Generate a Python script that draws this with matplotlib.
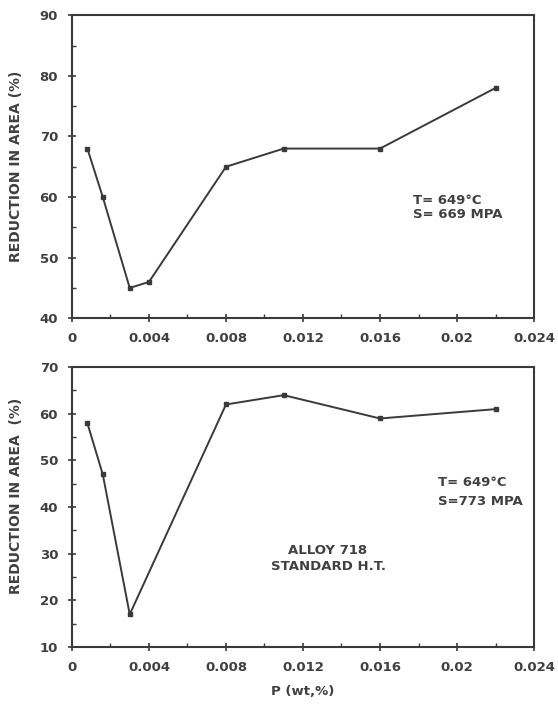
import numpy as np
import matplotlib.pyplot as plt
from matplotlib.ticker import MultipleLocator

plt.rcParams['font.family'] = ['DejaVu Sans']
plt.rcParams['font.weight'] = 'bold'

# Reduction in area vs phosphorus content, Alloy 718 at 649 C
p_top = [0.0008, 0.0016, 0.003, 0.004, 0.008, 0.011, 0.016, 0.022]
ra_top = [68, 60, 45, 46, 65, 68, 68, 78]
p_bot = [0.0008, 0.0016, 0.003, 0.008, 0.011, 0.016, 0.022]
ra_bot = [58, 47, 17, 62, 64, 59, 61]
xticks = [0, 0.004, 0.008, 0.012, 0.016, 0.02, 0.024]
xticklabels = ['0', '0.004', '0.008', '0.012', '0.016', '0.02', '0.024']

ink = '#3a3a3a'
txt = '#404040'
fs = 9.5
fig = plt.figure(figsize=(5.58, 7.12), dpi=100)
ax1 = fig.add_axes([0.129, 0.553, 0.828, 0.4256])
ax2 = fig.add_axes([0.129, 0.0913, 0.828, 0.393])

def style(ax, ylim, ystep, ylabel):
    ax.set_xlim(0, 0.024)
    ax.set_ylim(*ylim)
    ax.set_xticks(xticks)
    ax.set_xticklabels(xticklabels)
    ax.xaxis.set_minor_locator(MultipleLocator(0.002))
    ax.yaxis.set_major_locator(MultipleLocator(ystep))
    ax.yaxis.set_minor_locator(MultipleLocator(ystep / 2))
    ax.tick_params(which='major', direction='inout', length=6, width=1.2, colors=ink,
                   labelsize=fs, pad=7)
    ax.tick_params(which='minor', direction='in', length=3, width=1, colors=ink)
    for s in ax.spines.values():
        s.set_color(ink)
        s.set_linewidth(1.5)
    for lab in ax.get_xticklabels() + ax.get_yticklabels():
        lab.set_color(txt)
        lab.set_fontweight('bold')
    ax.set_ylabel(ylabel, fontsize=10, fontweight='bold', color=txt)
    ax.yaxis.set_label_coords(-0.105, 0.5)

ax1.plot(p_top, ra_top, '-s', color=ink, lw=1.4, ms=3)
style(ax1, (40, 90), 10, 'REDUCTION IN AREA (%)')
ax1.text(0.0177, 59.5, 'T= 649°C', fontsize=fs, fontweight='bold', color=txt, va='center')
ax1.text(0.0177, 57.2, 'S= 669 MPA', fontsize=fs, fontweight='bold', color=txt, va='center')

ax2.plot(p_bot, ra_bot, '-s', color=ink, lw=1.4, ms=3)
style(ax2, (10, 70), 10, 'REDUCTION IN AREA  (%)')
ax2.yaxis.set_label_coords(-0.105, 0.54)
ax2.set_xlabel('P (wt,%)', fontsize=fs, fontweight='bold', color=txt, labelpad=8)
ax2.text(0.0190, 45.2, 'T= 649°C', fontsize=fs, fontweight='bold', color=txt, va='center')
ax2.text(0.0190, 41.3, 'S=773 MPA', fontsize=fs, fontweight='bold', color=txt, va='center')
ax2.text(0.0133, 29.0, 'ALLOY 718\nSTANDARD H.T.', fontsize=fs, fontweight='bold',
         color=txt, ha='center', va='center', linespacing=1.3)

fig.savefig('out.png', dpi=100)
